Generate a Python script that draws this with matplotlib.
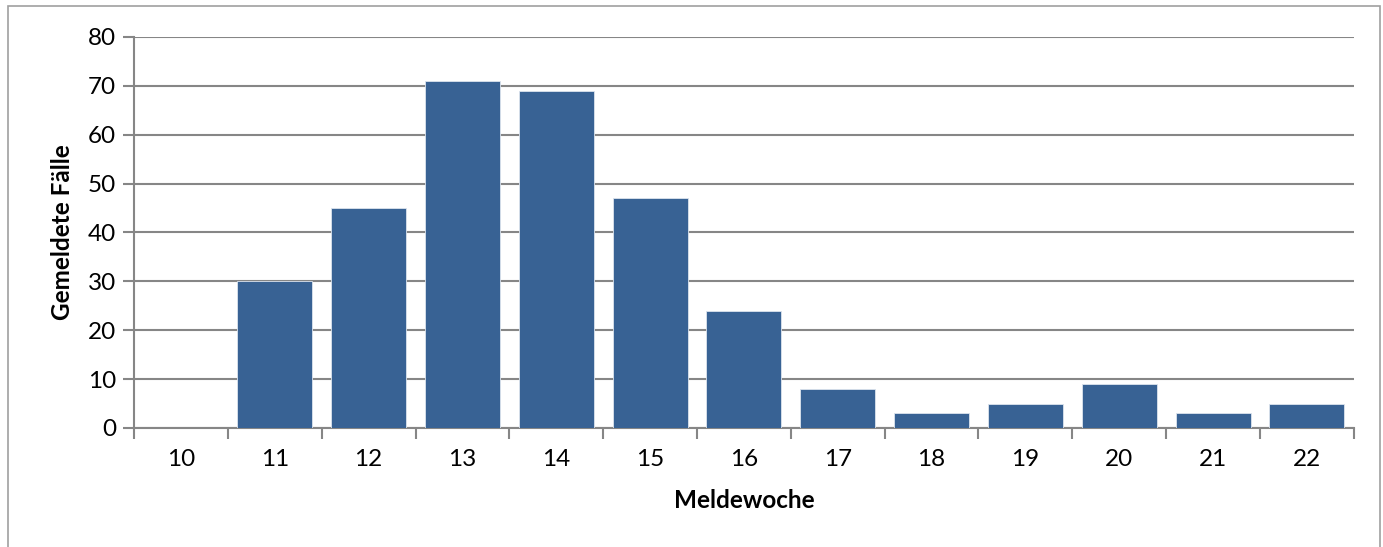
import matplotlib.pyplot as plt
from matplotlib.patches import Rectangle

# Meldewochen und gemeldete Fälle
wochen = ['10', '11', '12', '13', '14', '15', '16', '17', '18', '19', '20', '21', '22']
faelle = [0, 30, 45, 71, 69, 47, 24, 8, 3, 5, 9, 3, 5]

plt.rcParams['font.family'] = ['Lato', 'DejaVu Sans']

fig = plt.figure(figsize=(13.83, 5.47), dpi=100)
ax = fig.add_axes([0.0969, 0.2176, 0.882, 0.7148])

grau = '#868686'
x = list(range(len(wochen)))
ax.bar(x, faelle, width=0.8, color='#386294', edgecolor='#dce4ee', linewidth=0.6, zorder=3)

ax.set_xlim(-0.5, len(wochen) - 0.5)
ax.set_ylim(0, 80)
ax.set_yticks(range(0, 81, 10))
ax.set_xticks(x)
ax.set_xticklabels(wochen)
ax.set_xticks([i - 0.5 for i in range(len(wochen) + 1)], minor=True)
ax.tick_params(axis='x', which='major', length=0, labelsize=17.5, pad=15)
ax.tick_params(axis='x', which='minor', length=8, color=grau, width=1.5, direction='out')
ax.tick_params(axis='y', length=8, color=grau, width=1.5, labelsize=17.5, pad=5)

ax.grid(axis='y', color=grau, linewidth=1.5, zorder=0)
for s in ['top', 'right']:
    ax.spines[s].set_visible(False)
for s in ['left', 'bottom']:
    ax.spines[s].set_color(grau)
    ax.spines[s].set_linewidth(1.5)

ax.set_xlabel('Meldewoche', fontsize=17.5, fontweight='bold', labelpad=14)
ax.set_ylabel('Gemeldete Fälle', fontsize=17.5, fontweight='bold', labelpad=10)

# Rahmen um das Diagramm
fig.patches.append(Rectangle((8 / 1383, -0.05), 1372 / 1383, 1.05 - 6 / 547,
                             transform=fig.transFigure, fill=False,
                             edgecolor='#a0a0a0', linewidth=1.2))

fig.savefig('out.png', dpi=100)
